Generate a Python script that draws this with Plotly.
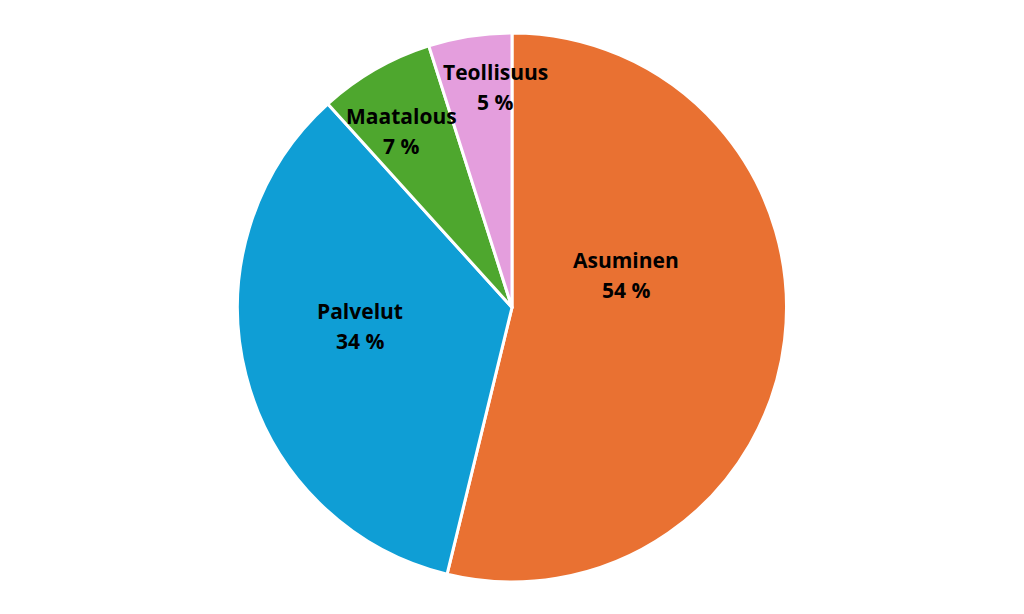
import plotly.graph_objects as go

categories = ["Asuminen", "Palvelut", "Maatalous", "Teollisuus"]
values = [53.8, 34.5, 6.8, 4.9]
pct_labels = ["54 %", "34 %", "7 %", "5 %"]
colors = ["#E97132", "#0F9ED5", "#4EA72E", "#E49EDD"]

# page body adds an 8px offset; figure drawn in 1008x598 area
OFF = 8
W, H = 1008, 598
# label block centres (screen pixels) as layout positions
label_pos = {
    "Asuminen": (626, 275),
    "Palvelut": (360, 326),
    "Maatalous": (401, 131),
    "Teollisuus": (495, 87),
}

pie_top, pie_bottom = 33 - OFF, 582 - OFF

fig = go.Figure(go.Pie(
    labels=categories,
    values=values,
    sort=False,
    direction="clockwise",
    rotation=0,
    marker=dict(colors=colors, line=dict(color="white", width=3)),
    textinfo="none",
    hoverinfo="label+percent",
    showlegend=False,
    domain=dict(x=[0, 1], y=[(H - pie_bottom) / H, (H - pie_top) / H]),
))

annotations = []
for cat, pct in zip(categories, pct_labels):
    px, py = label_pos[cat]
    px -= OFF
    py -= OFF
    for txt, dy in ((cat, -15), (pct, 15)):
        annotations.append(dict(
            x=px / W, y=1 - (py + dy) / H, xref="paper", yref="paper",
            text=f"<b>{txt}</b>", showarrow=False,
            xanchor="center", yanchor="middle",
            font=dict(family="Open Sans", size=21, color="#000000"),
        ))

fig.update_layout(
    width=W, height=H,
    margin=dict(l=0, r=0, t=0, b=0),
    paper_bgcolor="white", plot_bgcolor="white",
    annotations=annotations,
)
fig.write_html("out.html")
